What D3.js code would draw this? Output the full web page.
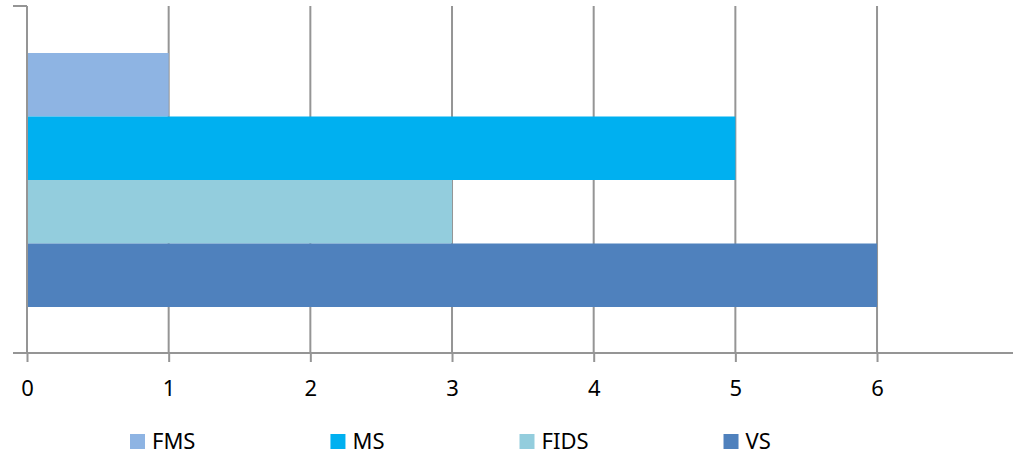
<!DOCTYPE html>
<meta charset="utf-8">
<script src="https://d3js.org/d3.v7.min.js"></script>
<style>
  body { margin: 0; background: #fff; }
  text { font-family: "Noto Sans", sans-serif; fill: #000; }
</style>
<svg id="chart" width="1013" height="454"></svg>
<script>
  // data
  var series = ["FMS", "MS", "FIDS", "VS"];
  var values = [1, 5, 3, 6];
  var colors = ["#8EB4E3", "#00B0F0", "#93CDDD", "#4F81BD"];
  var xTicks = [0, 1, 2, 3, 4, 5, 6, 7];

  var svg = d3.select("#chart");
  var gridColor = "#959595";

  var plotTop = 6, plotBottom = 353;
  var x = d3.scaleLinear().domain([0, 7]).range([27, 1018.7]);
  var y = d3.scaleBand().domain(series).range([53, 307]).padding(0);

  // gridlines
  svg.append("g")
    .selectAll("line")
    .data(xTicks.slice(1))
    .enter().append("line")
      .attr("x1", d => x(d)).attr("x2", d => x(d))
      .attr("y1", plotTop).attr("y2", plotBottom)
      .attr("stroke", gridColor)
      .attr("stroke-width", 2);

  // bars
  svg.append("g")
    .selectAll("rect")
    .data(series)
    .enter().append("rect")
      .attr("x", x(0))
      .attr("y", d => y(d))
      .attr("width", (d, i) => x(values[i]) - x(0))
      .attr("height", y.bandwidth())
      .attr("fill", (d, i) => colors[i]);

  // x axis
  var xAxis = d3.axisBottom(x).tickValues(xTicks).tickFormat(d3.format("d"))
    .tickSize(9).tickPadding(18).tickSizeOuter(0);
  var gx = svg.append("g")
    .attr("transform", "translate(0," + plotBottom + ")")
    .call(xAxis);
  gx.select(".domain").remove();
  gx.append("line").attr("x1", 13).attr("x2", 1013).attr("stroke", gridColor).attr("stroke-width", 2);
  gx.selectAll(".tick line").attr("stroke", gridColor).attr("stroke-width", 2);
  gx.selectAll(".tick text").style("font-size", "22px").style("font-family", "Noto Sans, sans-serif").attr("fill", "#000");

  // y axis (single category, no label)
  svg.append("line")
    .attr("x1", x(0)).attr("x2", x(0))
    .attr("y1", plotTop).attr("y2", plotBottom)
    .attr("stroke", gridColor).attr("stroke-width", 2);
  svg.append("line")
    .attr("x1", 13).attr("x2", x(0))
    .attr("y1", plotTop).attr("y2", plotTop)
    .attr("stroke", gridColor).attr("stroke-width", 2);

  // legend
  var lg = svg.append("g");
  var lx = 130;
  series.forEach(function(s, i) {
    lg.append("rect")
      .attr("x", lx).attr("y", 434)
      .attr("width", 15).attr("height", 15)
      .attr("fill", colors[i]);
    var t = lg.append("text")
      .attr("x", lx + 22).attr("y", 449)
      .style("font-size", "22px")
      .text(s);
    lx += 22 + t.node().getComputedTextLength() + 135;
  });
</script>
